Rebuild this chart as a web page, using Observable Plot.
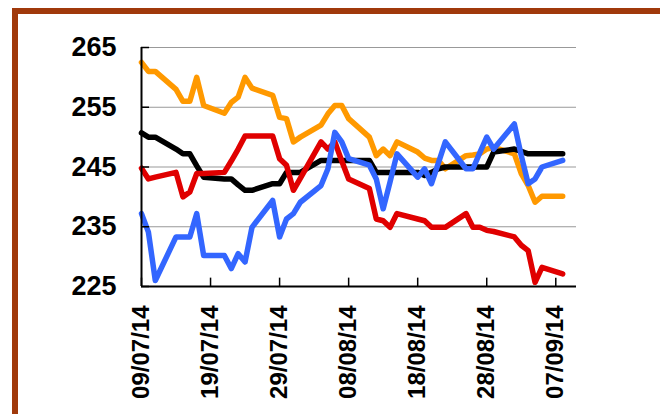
<!DOCTYPE html>
<html><head><meta charset="utf-8">
<script src="https://cdn.jsdelivr.net/npm/d3@7"></script>
<script src="https://cdn.jsdelivr.net/npm/@observablehq/plot@0.6"></script>
<style>
html,body{margin:0;padding:0;background:#fff;overflow:hidden;width:660px;height:414px;}
#wrap{position:relative;width:660px;height:414px;}
#frame{position:absolute;left:12px;top:8px;width:700px;height:500px;border:6px solid #A0390B;box-sizing:border-box;pointer-events:none;}
</style></head><body><div id="wrap"><div id="chart"></div><div id="frame"></div></div>
<script>
const dates = ["09/07/14","10/07/14","11/07/14","14/07/14","15/07/14","16/07/14","17/07/14","18/07/14","21/07/14","22/07/14","23/07/14","24/07/14","25/07/14","28/07/14","29/07/14","30/07/14","31/07/14","01/08/14","04/08/14","05/08/14","06/08/14","07/08/14","08/08/14","11/08/14","12/08/14","13/08/14","14/08/14","15/08/14","18/08/14","19/08/14","20/08/14","21/08/14","22/08/14","25/08/14","26/08/14","27/08/14","28/08/14","29/08/14","01/09/14","02/09/14","03/09/14","04/09/14","05/09/14","08/09/14"];
const seriesA = [262.5,261,261,258,256,256,260,255.3,254,255.8,256.7,260,258.2,257,253.3,253.1,249.2,250,252,253.9,255.3,255.3,253.1,250,246.9,248,246.9,249.2,247.5,246.5,246.1,246.1,244.7,246.9,247,247.2,248,248.3,247.2,243.9,241.9,239.1,240.1,240.1];
const seriesB = [250.7,250,250,248,247.2,247.2,245.2,243.3,243,243,242,241.1,241.1,242.2,242.2,244.1,244.1,244.1,246.1,246.1,246.1,246.1,246.1,246.1,244.1,244.1,244.1,244.1,244.1,243.6,244.1,244.7,245,245,245,245,245,247.5,248,247.6,247.2,247.2,247.2,247.2];
const seriesC = [244.8,243,243.3,244.1,240,240.8,243.9,243.9,244.1,246,248,250.2,250.2,250.2,246.4,245.3,241.1,243.1,249.2,248,249.2,246,243,241.4,236.3,236,234.9,237.2,236.3,236,234.9,234.9,234.9,237.2,234.9,234.9,234.4,234.2,233.3,231.9,231,225.7,228.2,227.1];
const seriesD = [237.2,234.1,226,233.3,233.3,233.3,237.2,230.2,230.2,228,230.5,229.1,234.9,239.4,233.3,236.3,237.2,239.1,241.9,244.7,250.8,249.2,246.4,245.3,243,238,242.5,247.2,243.3,244.7,242.2,245.7,249.2,244.7,244.7,247.4,250,248,252.2,246.9,242.2,243,245,246.1];
const seriesNames = ["S1","S2","S3","S4"];
const seriesColors = ["#FF9900","#000000","#E00000","#3366FF"];
const tickLabels = ["09/07/14","19/07/14","29/07/14","08/08/14","18/08/14","28/08/14","07/09/14"];
const axisStart = "09/07/14", axisEnd = "10/09/14";
const yTicks = [225,235,245,255,265];

const parse = d3.utcParse("%d/%m/%y");
const fmt = d3.utcFormat("%d/%m/%y");
const all = {S1:seriesA, S2:seriesB, S3:seriesC, S4:seriesD};
const rows = [];
seriesNames.forEach(s => dates.forEach((d,i) => rows.push({series:s, date:parse(d), value:all[s][i]})));
const xDomain = [parse(axisStart), parse(axisEnd)];
const tickDates = tickLabels.map(parse);
const font = "Liberation Sans, Arial, sans-serif";

const chart = Plot.plot({
  width:660, height:414, marginLeft:141, marginRight:84, marginTop:47, marginBottom:128,
  x:{type:"utc", domain:xDomain},
  y:{domain:[225,265]},
  color:{type:"ordinal", domain:seriesNames, range:seriesColors},
  style:{fontFamily:font, background:"transparent", color:"black"},
  marks:[
    Plot.ruleY(yTicks.slice(1), {stroke:"#999", strokeWidth:1}),
    Plot.lineY(rows, {x:"date", y:"value", z:"series", stroke:"series", strokeWidth:5.5, strokeLinejoin:"round", strokeLinecap:"round"}),
    Plot.ruleY([225], {stroke:"black", strokeWidth:2}),
    Plot.ruleX([xDomain[0]], {stroke:"black", strokeWidth:2}),
    Plot.ruleX(tickDates, {y1:225, y2:226.4, stroke:"black", strokeWidth:1.5}),
    Plot.ruleY(yTicks, {x1:xDomain[0], x2:d3.utcHour.offset(xDomain[0], 28), stroke:"black", strokeWidth:1.5}),
    Plot.axisY({ticks:yTicks, tickSize:0, tickPadding:25, fontSize:27, fontWeight:"bold", label:null}),
    Plot.axisX({ticks:tickDates, tickFormat:fmt, tickRotate:-90, tickSize:0, tickPadding:19, fontSize:24, fontWeight:"bold", label:null})
  ]
});
document.getElementById("chart").appendChild(chart);
</script></body></html>
